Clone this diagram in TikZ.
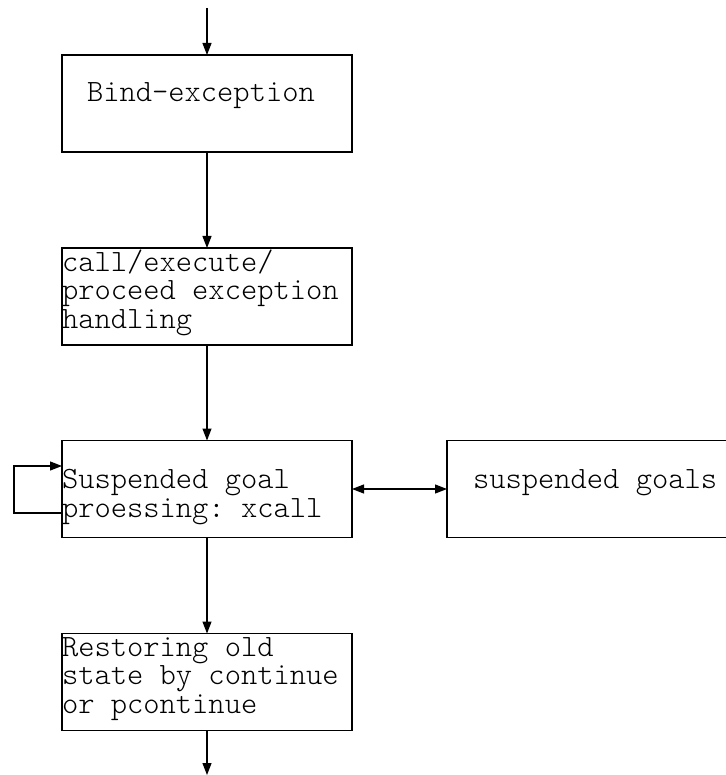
\documentclass[tikz,border=0pt]{standalone}
\usepackage{fontspec}
\setmonofont{lmmonolt10-regular.otf}
\usetikzlibrary{arrows.meta}
\begin{document}
\begin{tikzpicture}[x=1pt,y=-1pt,
  every node/.style={inner sep=0pt,outer sep=0pt},
  box/.style={draw,line width=1.2pt,minimum width=290pt,minimum height=97pt},
  txt/.style={anchor=base west,align=left,
    font=\ttfamily\fontsize{31pt}{28.3pt}\selectfont},
  conn/.style={line width=1.2pt,-{Triangle[length=12pt,width=9pt]}},
  dconn/.style={line width=1.2pt,{Triangle[length=12pt,width=9pt]}-{Triangle[length=12pt,width=9pt]}}]
  \useasboundingbox (0,0) rectangle (725,775);

  % process boxes
  \node[box] (bind) at (207,103.5) {};
  \node[box] (exc)  at (207,296.5) {};
  \node[box] (susp) at (207,489) {};
  \node[box,minimum width=284pt] (goals) at (589,489) {};
  \node[box] (rest) at (207,682) {};

  % box texts (anchored at the baseline of the last line)
  \node[txt] (tbind) at (87,102) {Bind-exception};
  \node[txt] (texc) at (62,328) {call/execute/\\proceed exception\\handling};
  \node[txt] (tsusp) at (62,517) {Suspended goal\\proessing: xcall};
  \node[txt] (tgoals) at (473,488) {suspended goals};
  \node[txt] (trest) at (62,713) {Restoring old\\state by continue\\or pcontinue};

  % free ends and loop corners
  \coordinate (in) at (207,8);
  \coordinate (out) at (207,775);
  \coordinate (lpA) at (14,513);
  \coordinate (lpB) at (14,466);

  % connectors
  \draw[conn] (in) -- (bind.north);
  \draw[conn] (bind.south) -- (exc.north);
  \draw[conn] (exc.south) -- (susp.north);
  \draw[conn] (susp.south) -- (rest.north);
  \draw[conn] (rest.south) -- (out);
  \draw[dconn] (susp.east) -- (goals.west);
  \draw[conn] (susp.west |- lpA) -- (lpA) -- (lpB) -- (susp.west |- lpB);
\end{tikzpicture}
\end{document}
